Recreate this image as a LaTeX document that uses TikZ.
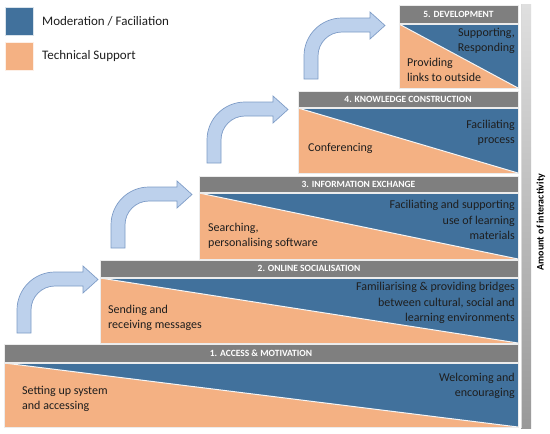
\documentclass[tikz,border=0pt]{standalone}
\usepackage{fontspec}
\setmainfont{Carlito}
\usetikzlibrary{shadings}
\definecolor{modblue}{HTML}{41719C}
\definecolor{techorange}{HTML}{F4B183}
\definecolor{headgray}{HTML}{7F7F7F}
\definecolor{arrfill}{HTML}{BDD1EC}
\definecolor{arrdraw}{HTML}{7E9CC7}
\definecolor{txtdark}{HTML}{1E1E1E}
\tikzset{
  headbar/.style={fill=headgray, draw=white!85!gray, line width=0.6pt},
  headtext/.style={text=white, font=\fontsize{9.5}{11}\selectfont\bfseries, inner sep=0pt},
  bodytext/.style={text=txtdark, font=\fontsize{12}{15.5}\selectfont, inner sep=0pt},
  lefttext/.style={bodytext, anchor=west, align=left},
  righttext/.style={bodytext, anchor=east, align=right},
  legendtext/.style={text=txtdark, font=\fontsize{13}{15}\selectfont, inner sep=0pt, anchor=west},
  bentarrow/.style={fill=arrfill, draw=arrdraw, line width=0.7pt, line join=miter},
  diagline/.style={draw=white!92!gray, line width=1pt}
}
% \stepblock{left}{headtop}{headbottom}{bodytop}{bodybottom}{name}{title}
\newcommand{\stepblock}[7]{%
  \fill[techorange] (#1,#4) rectangle (518,#5);
  \fill[modblue] (#1,#4) -- (518,#4) -- (518,#5) -- cycle;
  \draw[diagline] (#1,#4) -- (518,#5);
  \draw[white!85!gray, line width=0.6pt] (#1,#4) rectangle (518,#5);
  \draw[headbar] (#1,#2) rectangle (518,#3);
  \node[headtext] (#6) at ({(#1+518)/2},{(#2+#3)/2}) {#7};
}
% \bentarr{dx}{dy}
\newcommand{\bentarr}[2]{%
  \begin{scope}[shift={(#1,#2)}]
    \draw[bentarrow] (17,333) -- (17,310) arc[start angle=180, end angle=270, radius=38]
      -- (83,272) -- (83,266) -- (98,279.5) -- (83,293) -- (83,286) -- (55,286)
      arc[start angle=270, end angle=180, radius=24] -- (31,333) -- cycle;
  \end{scope}
}
\begin{document}
\begin{tikzpicture}[x=1pt,y=-1pt]
\useasboundingbox (0,0) rectangle (550,434);
\fill[white] (0,0) rectangle (550,434);

% legend
\fill[modblue, draw=white!80!modblue, line width=0.6pt] (5,7) rectangle (33,35);
\fill[techorange, draw=white!80!techorange, line width=0.6pt] (5,42) rectangle (33,70);
\node[legendtext] (legmod) at (42,21) {Moderation / Faciliation};
\node[legendtext] (legtech) at (42,56) {Technical Support};

% interactivity bar
\shade[top color=gray!25, bottom color=gray!100!black!80] (521,4) rectangle (531,428);
\draw[white!70!gray, line width=0.6pt] (521.5,4) -- (521.5,428);
\node[rotate=90, font=\fontsize{10}{12}\selectfont\bfseries, text=black, inner sep=0pt] (amount) at (541,222) {Amount of interactivity};

% steps
\stepblock{4}{344}{362}{363}{427}{h1}{1. ACCESS \& MOTIVATION}
\stepblock{100}{260}{277}{278}{343}{h2}{2. ONLINE SOCIALISATION}
\stepblock{199}{176}{192}{193}{259}{h3}{3. INFORMATION EXCHANGE}
\stepblock{298}{91}{107}{108}{173}{h4}{4. KNOWLEDGE CONSTRUCTION}
\stepblock{399}{5}{23}{24}{88}{h5}{5. DEVELOPMENT}

% texts
\node[lefttext] (t1l) at (22,399) {Setting up system\\and accessing};
\node[righttext] (t1r) at (515,386) {Welcoming and\\encouraging};
\node[lefttext] (t2l) at (108,318) {Sending and\\receiving messages};
\node[righttext] (t2r) at (515,303) {Familiarising \& providing bridges\\between cultural, social and\\learning environments};
\node[lefttext] (t3l) at (208,236) {Searching,\\personalising software};
\node[righttext] (t3r) at (515,220) {Faciliating and supporting\\use of learning\\materials};
\node[lefttext] (t4l) at (308,148) {Conferencing};
\node[righttext] (t4r) at (515,133) {Faciliating\\process};
\node[lefttext] (t5l) at (407,70) {Providing\\links to outside};
\node[righttext] (t5r) at (515,41) {Supporting,\\Responding};

% bent arrows
\bentarr{0}{0}
\bentarr{94}{-85}
\bentarr{190}{-170}
\bentarr{287}{-254}
\end{tikzpicture}
\end{document}
